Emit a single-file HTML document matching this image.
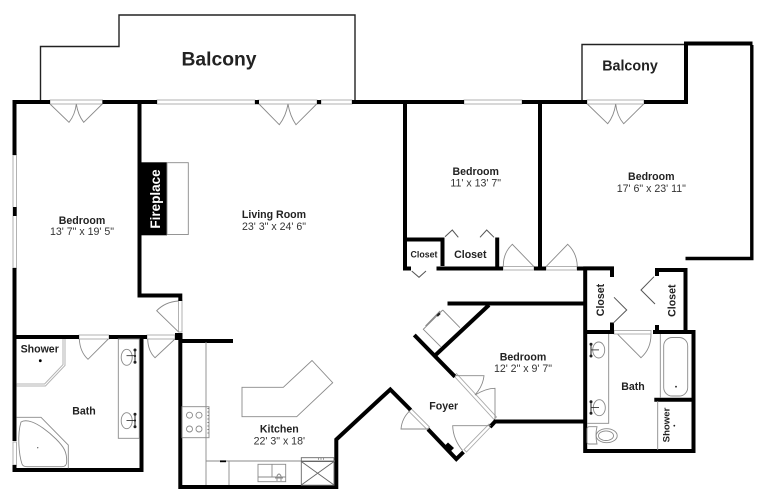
<!DOCTYPE html>
<html><head><meta charset="utf-8"><title>Floor plan</title>
<style>
html,body{margin:0;padding:0;background:#fff;width:762px;height:500px;overflow:hidden}
svg{display:block;filter:blur(.35px)}
text{font-family:"Liberation Sans",Arial,sans-serif;fill:#222;text-anchor:middle}
.b{font-weight:bold;font-size:10.6px}
.r{font-size:10.6px;fill:#333}
.w{fill:none;stroke:#000;stroke-width:4;stroke-linejoin:miter;stroke-linecap:butt}
.t{fill:none;stroke:#222;stroke-width:1.4}
.g{fill:none;stroke:#8a8a8a;stroke-width:.9}
.f{fill:#fff;stroke:#aaa;stroke-width:.9}
</style></head><body>
<svg width="762" height="500" viewBox="0 0 762 500" xmlns="http://www.w3.org/2000/svg">
<rect width="762" height="500" fill="#fff"/>

<!-- balconies -->
<path class="t" d="M40.5 100V46.5H119V15H355V100"/>
<path class="t" d="M582 100V44.5H686"/>

<!-- window / door frames -->
<g class="f">
<rect x="50" y="100" width="52.5" height="4"/>
<rect x="157" y="100" width="98" height="4"/>
<rect x="258" y="100" width="59" height="4"/>
<rect x="321" y="100" width="31" height="4"/>
<rect x="464" y="100" width="58" height="4"/>
<rect x="587" y="100" width="57" height="4"/>
<rect x="13" y="155" width="3.5" height="113"/>
<rect x="13" y="442" width="3.5" height="23"/>
<rect x="79" y="335" width="30" height="4"/>
<rect x="147" y="335" width="28" height="4"/>
<rect x="178.5" y="300" width="3.5" height="32"/>
<rect x="503" y="266.5" width="31" height="3.5"/>
<rect x="546" y="266.5" width="31" height="3.5"/>
<rect x="614" y="330.5" width="37" height="3.5"/>
<path d="M411 408.5L429.5 427L427 429.5L408.5 411Z"/>
<path d="M456.5 373.5L496.5 417L494 419.5L454 376Z"/>
<path d="M490 424.5L465.5 450L463 447.5L488 422Z" transform="translate(1,2)"/>
</g>

<!-- walls -->
<g class="w">
<path d="M50 102H14.5V155"/>
<path d="M14.5 268V441"/>
<path d="M14.5 465V472"/>
<path d="M13 470H141.5V336"/>
<path d="M102.5 102H157"/>
<path d="M352 102H464"/>
<path d="M522 102H587"/>
<path d="M644 102H686V43.5H752.5" stroke-width="4"/>
<path d="M139.5 102V295.5H180.3V301"/>
<path d="M13 337H79"/>
<path d="M109 337H147"/>
<path d="M233 341H180.3V487H336.3V439.5L381 398L390.3 389.5L410.7 410"/>
<path d="M428 429.3L456.3 459L463.5 452"/>
<path d="M490 427L496 420.5"/>
<path d="M494 421.5H584"/>
<path d="M455 376.7L414.3 335"/>
<path d="M434.5 356L489 305"/>
<path d="M447.5 303.5H585"/>
<path d="M405 102V268"/>
<path d="M403 268.5H411"/>
<path d="M403 239.5H442.5V266"/>
<path d="M436.5 268.5H503"/>
<path d="M497.2 237.5V268"/>
<path d="M534 268.5H546"/>
<path d="M540 102V268"/>
<path d="M577 268.5H585"/>
<path d="M612 277V268.4H585.2V451H693.5V332H653"/>
<path d="M612 322.5V333M585 332H614"/>
<path d="M657 325V333"/>
<path d="M657 276V270H685.5V332"/>
<path d="M685.5 258.5H751.8V45" stroke-width="3.4"/>
<path d="M654.3 399.7H692"/>
</g>
<rect x="13" y="207" width="3.6" height="9" fill="#000"/>
<rect x="255" y="100" width="4" height="4.2" fill="#000"/>
<rect x="317" y="100" width="4" height="4.2" fill="#000"/>
<rect x="175" y="333" width="7.5" height="7" fill="#000"/>
<path d="M445 442.5L451 448L446.5 452.5L440.5 447Z" fill="#000" transform="translate(3,0)"/>

<!-- fireplace -->
<rect x="141" y="162.3" width="26" height="73" fill="#000"/>
<rect x="167" y="162.7" width="21.3" height="71.8" class="g"/>
<text transform="translate(160.2,199) rotate(-90)" style="font-weight:bold;font-size:13.5px;fill:#fff">Fireplace</text>

<!-- door leaves -->
<g class="g">
<path d="M50 104L69 122.3Q75 115 76.3 104Q78 115 83.7 122.3L102.3 104"/>
<path d="M259 104L279.3 124.7Q286 116 288 104Q290 116 296 124.7L316.7 104"/>
<path d="M587.3 104L607.7 123.7Q614 116 615.7 104Q617 116 623.7 123.7L643.7 104"/>
<path d="M79.3 339Q80 352 88 359.3L108.3 339"/>
<path d="M147.7 339Q148 351 155 357.7L175 339"/>
<path d="M178.3 331.7L156.7 310.7Q165 302 178.3 301"/>
<path d="M534 266.7L512.3 244.3Q503 253 503.3 266.7"/>
<path d="M546 266.7L567.7 244.3Q577 253 577.3 266.7"/>
<path d="M617.7 334.3L641 357.7Q651 349 651 334.3"/>
<path d="M428.3 429H401Q402 418 410 410.7"/>
<path d="M455 375.7H484Q483 386 475 395Q486 388.3 495 388.3V418.3"/>
<path d="M491 425.7H452.7Q453 439 462.7 450.7"/>
</g>
<g fill="none" stroke="#555" stroke-width="1">
<path d="M411.7 271L419 277.3L426 271"/>
<path d="M445 236.7L452.3 230L458.3 237.3"/>
<path d="M480 237.3L486.7 230L494 237.3"/>
<path d="M614 297.3L626.7 310L613 323.3"/>
<path d="M655 304L641 290L654 276.7"/>
</g>

<!-- closet shelf diag -->
<path class="g" d="M442.7 310L423.3 329.3L440.7 346.7M442.7 310L460 327.7M440 311L425.5 326"/>
<rect x="436.5" y="313.5" width="4" height="2.2" fill="#222" transform="rotate(-45 438.5 314.6)"/>

<!-- kitchen -->
<g class="g">
<path d="M206 342V485"/>
<rect x="182" y="406.7" width="27" height="31"/>
<circle cx="189.5" cy="415.2" r="3"/><circle cx="199" cy="415.2" r="3"/>
<circle cx="189.5" cy="429" r="3"/><circle cx="199" cy="429" r="3"/>
<path d="M208 408V436" stroke-dasharray="1 2.5" stroke="#555"/>
<path d="M206 461H335"/>
<path d="M229 461V485"/>
<rect x="258" y="464.3" width="27.7" height="17.4"/>
<path d="M272 464.3V477M258 477H285.7"/>
<path d="M277 481V476Q279 472 281 476V481M275 478H283"/>
<path d="M242 387.3H283.3L312 360.5L332.7 382.7L296.7 416.7H242Z"/>
<rect x="301.3" y="457.7" width="32.7" height="27.5" stroke="#666"/>
<path d="M301.3 461.5L334 485M301.3 485L334 461.5M301.3 461.5H334" stroke="#666"/>
<path d="M318 459H325" stroke-dasharray="1 1.5" stroke="#555"/>
</g>
<rect x="220" y="460.4" width="6" height="1.8" fill="#000"/>

<!-- left bath -->
<path d="M64 339V365L45 385H16.7" fill="none" stroke="#b3b3b3" stroke-width="3"/>
<path d="M64 339V365L45 385H16.7" fill="none" stroke="#fff" stroke-width="1"/>
<circle cx="40.3" cy="360.7" r="1.4" fill="#000"/>
<g class="g">
<rect x="118.3" y="339" width="21" height="99.3"/>
<ellipse cx="126.7" cy="357.3" rx="5.5" ry="8"/>
<ellipse cx="126.7" cy="420.7" rx="5.5" ry="8"/>
<path d="M16.7 417.3H41L68.3 445V468.3"/>
<path d="M21 422C17 435 19 455 22 464Q23 466.7 27 466.7H62Q66.5 466.7 66.7 462C67 452 64 447 56 439C48 431 38 424 32 422Q25 419.5 21 422Z"/>
</g>
<g fill="#222">
<circle cx="135" cy="350" r="1.5"/><circle cx="135" cy="356" r="1.1"/><circle cx="135" cy="362.3" r="1.5"/>
<circle cx="135" cy="414.3" r="1.5"/><circle cx="135" cy="420.5" r="1.1"/><circle cx="135" cy="426.7" r="1.5"/>
<rect x="134.5" y="350" width="1" height="12"/><rect x="134.5" y="414" width="1" height="12.7"/>
<rect x="126.5" y="355.3" width="8" height=".8"/><rect x="126.5" y="420" width="8" height=".8"/>
<circle cx="37.7" cy="447.7" r=".7" fill="#666"/>
</g>

<!-- right bath -->
<g class="g">
<path d="M608.7 334V423.3H587"/>
<ellipse cx="598.7" cy="350" rx="6" ry="8"/>
<ellipse cx="599.3" cy="407.7" rx="6" ry="8"/>
<path d="M597 426.7H589Q587 427 587 429V442Q587 444 589 444H597Q595 435 597 426.7Z"/>
<ellipse cx="606.7" cy="435.7" rx="10.5" ry="7"/>
<ellipse cx="606" cy="435.7" rx="7.5" ry="4.8"/>
<path d="M660.3 334V398"/>
<rect x="663.7" y="337.5" width="24" height="58.5" rx="8.5"/>
<path d="M657.7 401V450"/>
</g>
<g fill="#222">
<circle cx="591" cy="344.3" r="1.5"/><circle cx="591" cy="356" r="1.5"/>
<rect x="590.5" y="344" width="1" height="12"/><rect x="591" y="349.5" width="8" height=".8"/>
<circle cx="591" cy="401.7" r="1.5"/><circle cx="591" cy="413.3" r="1.5"/>
<rect x="590.5" y="401.5" width="1" height="12"/><rect x="591" y="407" width="8" height=".8"/>
<circle cx="676" cy="386.7" r=".9"/>
<circle cx="674.3" cy="425.7" r=".9"/>
</g>

<!-- labels -->
<text x="219" y="65.7" style="font-weight:bold;font-size:19.3px">Balcony</text>
<text x="630" y="70.5" style="font-weight:bold;font-size:14.3px">Balcony</text>

<text class="b" x="82" y="224">Bedroom</text><text class="r" x="82" y="235.2">13' 7" x 19' 5"</text>
<text class="b" x="274" y="217.8">Living Room</text><text class="r" x="274" y="230">23' 3" x 24' 6"</text>
<text class="b" x="475.7" y="175">Bedroom</text><text class="r" x="475.7" y="186.7">11' x 13' 7"</text>
<text class="b" x="651.3" y="180">Bedroom</text><text class="r" x="651.3" y="192">17' 6" x 23' 11"</text>
<text class="b" x="523" y="360.7">Bedroom</text><text class="r" x="523" y="372">12' 2" x 9' 7"</text>
<text class="b" x="279.3" y="432.3">Kitchen</text><text class="r" x="279.3" y="444.7">22' 3" x 18'</text>
<text class="b" x="443.7" y="409.3">Foyer</text>
<text class="b" x="84" y="414.7">Bath</text>
<text class="b" x="633" y="390">Bath</text>
<text class="b" x="39.7" y="352.7">Shower</text>
<text transform="translate(669.7,425) rotate(-90)" style="font-weight:bold;font-size:9.6px">Shower</text>
<text x="424" y="257.3" style="font-weight:bold;font-size:8.8px">Closet</text>
<text class="b" x="470.3" y="258">Closet</text>
<text class="b" transform="translate(604,300) rotate(-90)">Closet</text>
<text class="b" transform="translate(675.7,300.7) rotate(-90)">Closet</text>
</svg>
</body></html>
